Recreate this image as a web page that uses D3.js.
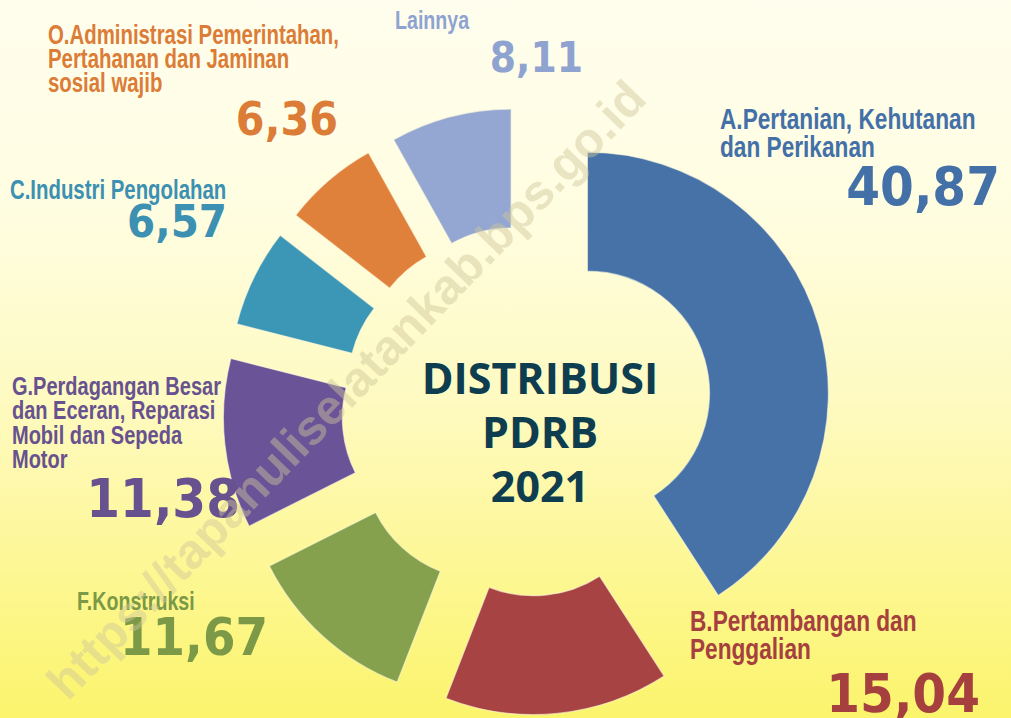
<!DOCTYPE html>
<html>
<head>
<meta charset="utf-8">
<title>Distribusi PDRB 2021</title>
<script src="https://cdn.jsdelivr.net/npm/d3@7"></script>
<style>
  html, body { margin: 0; padding: 0; overflow: hidden; }
</style>
</head>
<body>
<script>
// data (percent of PDRB 2021), clockwise from 12 o'clock
var categories = [
  "A.Pertanian, Kehutanan dan Perikanan",
  "B.Pertambangan dan Penggalian",
  "F.Konstruksi",
  "G.Perdagangan Besar dan Eceran, Reparasi Mobil dan Sepeda Motor",
  "C.Industri Pengolahan",
  "O.Administrasi Pemerintahan, Pertahanan dan Jaminan sosial wajib",
  "Lainnya"
];
var values = [40.87, 15.04, 11.67, 11.38, 6.57, 6.36, 8.11];
var titleLines = ["DISTRIBUSI", "PDRB", "2021"];

// styles
var sliceColors = ["#4672a8", "#a84343", "#86a14d", "#6a5497", "#3c97b6", "#df813b", "#94a7d2"];
var textColors  = ["#4470a8", "#a5403f", "#7b9946", "#67528f", "#3c90b2", "#db7c37", "#8fa3d1"];

// label layout: how each category name is broken, where it sits
var labelLines = [
  ["A.Pertanian, Kehutanan", "dan Perikanan"],
  ["B.Pertambangan dan", "Penggalian"],
  ["F.Konstruksi"],
  ["G.Perdagangan Besar", "dan Eceran, Reparasi", "Mobil dan Sepeda", "Motor"],
  ["C.Industri Pengolahan"],
  ["O.Administrasi Pemerintahan,", "Pertahanan dan Jaminan", "sosial wajib"],
  ["Lainnya"]
];
var labelPos = [
  {x: 720, y: 129, size: 30, lh: 28, nx: 1000, ny: 205, ns: 54},
  {x: 690, y: 631, size: 30, lh: 28, nx: 980, ny: 712, ns: 54},
  {x: 77,  y: 610, size: 26, lh: 24, nx: 268, ny: 655, ns: 52},
  {x: 12,  y: 395, size: 26.5, lh: 24.5, nx: 240, ny: 517, ns: 54},
  {x: 10,  y: 199, size: 27, lh: 24, nx: 227, ny: 237, ns: 45},
  {x: 48,  y: 44,  size: 27, lh: 24, nx: 338, ny: 135, ns: 46},
  {x: 395, y: 29,  size: 26, lh: 24, nx: 583, ny: 72,  ns: 42}
];

var width = 1011, height = 718;
var cx = 527, cy = 411, outerR = 241, innerR = 122, explode = 63;

var svg = d3.select("body").append("svg")
  .attr("width", width)
  .attr("height", height);

// background
var defs = svg.append("defs");
var grad = defs.append("linearGradient")
  .attr("id", "bg")
  .attr("x1", 0).attr("y1", 0).attr("x2", 0).attr("y2", 1);
[[0, "#fffeee"], [0.3, "#fffde0"], [0.55, "#fefac2"], [0.8, "#fdf793"], [1, "#fbf46c"]].forEach(function (s) {
  grad.append("stop").attr("offset", s[0]).attr("stop-color", s[1]);
});
svg.append("rect").attr("width", width).attr("height", height).attr("fill", "url(#bg)");

// donut
var pie = d3.pie().sort(null).value(function (d) { return d; })
  .startAngle(0).endAngle(2 * Math.PI);
var arc = d3.arc().innerRadius(innerR).outerRadius(outerR);
var arcs = pie(values);

var g = svg.append("g").attr("transform", "translate(" + cx + "," + cy + ")");
g.selectAll("path")
  .data(arcs)
  .enter().append("path")
  .attr("d", arc)
  .attr("transform", function (d) {
    var mid = (d.startAngle + d.endAngle) / 2;
    return "translate(" + (explode * Math.sin(mid)) + "," + (-explode * Math.cos(mid)) + ")";
  })
  .attr("fill", function (d, i) { return sliceColors[i]; })
  .attr("stroke", "#fffbe0")
  .attr("stroke-opacity", 0.6)
  .attr("stroke-width", 1.2);

// centre title
svg.append("g").selectAll("text")
  .data(titleLines)
  .enter().append("text")
  .attr("x", 540)
  .attr("y", function (d, i) { return 394 + i * 54; })
  .attr("text-anchor", "middle")
  .attr("font-family", "Open Sans, sans-serif")
  .attr("font-weight", 700)
  .attr("font-size", 43)
  .attr("fill", "#0f3d50")
  .text(function (d) { return d; });

// category labels
var fmt = function (v) { return d3.format(".2f")(v).replace(".", ","); };

categories.forEach(function (c, i) {
  var p = labelPos[i];
  var t = svg.append("text")
    .attr("transform", "translate(" + p.x + "," + p.y + ") scale(0.755,1)")
    .attr("font-family", "Liberation Sans Narrow, Arial Narrow, sans-serif")
    .attr("font-weight", "bold")
    .attr("font-size", p.size)
    .attr("fill", textColors[i]);
  labelLines[i].forEach(function (line, j) {
    t.append("tspan").attr("x", 0).attr("y", j * p.lh).text(line);
  });

  svg.append("text")
    .attr("transform", "translate(" + p.nx + "," + p.ny + ") scale(0.9,1)")
    .attr("text-anchor", "end")
    .attr("font-family", "DejaVu Sans, Verdana, sans-serif")
    .attr("font-weight", "bold")
    .attr("font-size", p.ns)
    .attr("fill", textColors[i])
    .text(fmt(values[i]));
});

// watermark, drawn over everything like in the source image
svg.append("text")
  .attr("transform", "translate(68,702) rotate(-46)")
  .attr("font-family", "Liberation Sans, Arial, sans-serif")
  .attr("font-weight", "bold")
  .attr("font-size", 49)
  .attr("fill", "#cfc69a")
  .attr("opacity", 0.45)
  .text("https://tapanuliselatankab.bps.go.id");
</script>
</body>
</html>
